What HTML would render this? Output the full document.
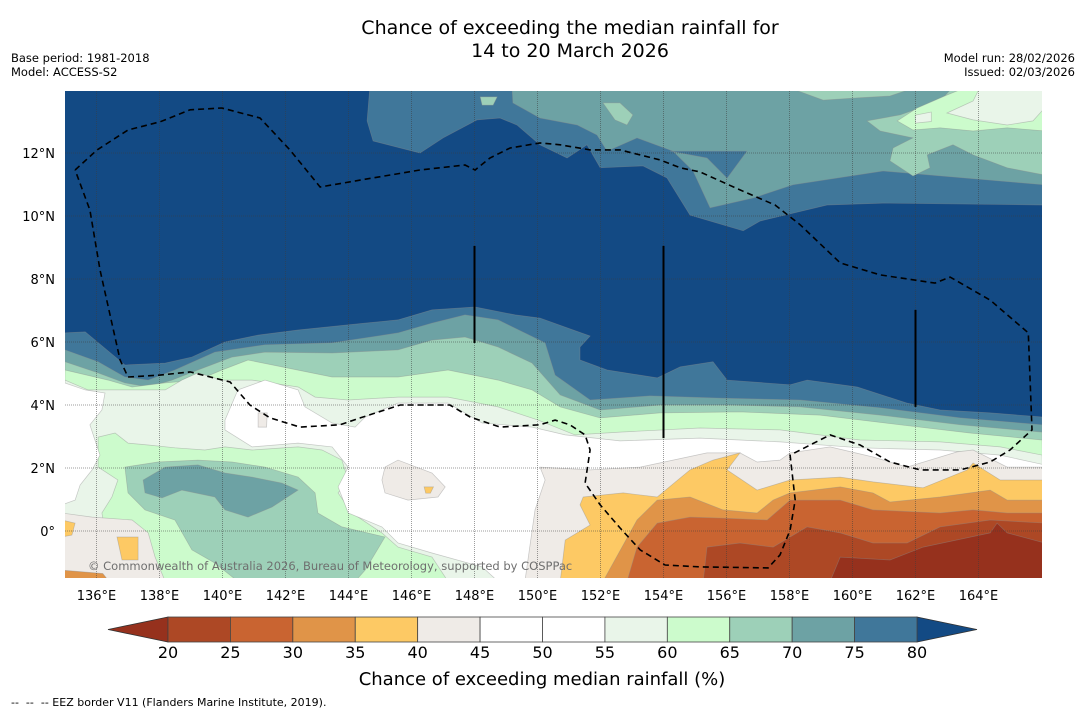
<!DOCTYPE html>
<html><head><meta charset="utf-8"><style>
body{margin:0;background:#fff;}
svg{display:block;font-family:"DejaVu Sans","Liberation Sans",sans-serif;}
</style></head><body>
<svg id="chart" width="1085" height="713" viewBox="0 0 1085 713">
<text x="570" y="34" font-size="19" text-anchor="middle" fill="#000">Chance of exceeding the median rainfall for</text>
<text x="570" y="57" font-size="19" text-anchor="middle" fill="#000">14 to 20 March 2026</text>
<text x="11" y="62" font-size="11.5">Base period: 1981-2018</text>
<text x="11" y="76" font-size="11.5">Model: ACCESS-S2</text>
<text x="1075" y="62" font-size="11.5" text-anchor="end">Model run: 28/02/2026</text>
<text x="1075" y="76" font-size="11.5" text-anchor="end">Issued: 02/03/2026</text>
<defs><clipPath id="mapclip"><rect x="65" y="91" width="977" height="487"/></clipPath></defs>
<g id="map" clip-path="url(#mapclip)"></g>
<g id="axes"></g>
<g id="cbar"></g>
<text x="542" y="685" font-size="18" text-anchor="middle">Chance of exceeding median rainfall (%)</text>
<text x="11" y="706" font-size="11">-- &#160;-- &#160;-- EEZ border V11 (Flanders Marine Institute, 2019).</text>
</svg>
<script>
const levels = [20,25,30,35,40,45,50,55,60,65,70,75,80];
const bandColors = ["#ad4825","#c96431","#e09448","#fdc964","#efebe7","#ffffff","#ffffff","#e9f5e9","#ccfbcc","#9dd0b8","#6da2a4","#40779a"];
const underColor = "#96311d";
const overColor = "#134a84";
const lonTicks = [136,138,140,142,144,146,148,150,152,154,156,158,160,162,164];
const latTicks = [0,2,4,6,8,10,12];
const northBand75 = [[144.68,14.1],[144.59,13.02],[144.78,12.38],[146.27,12.0],[147.0,12.48],[148.08,13.05],[148.81,13.11],[149.35,12.89],[150.08,12.26],[150.94,11.84],[151.57,12.26],[151.99,11.53],[153.35,11.59],[154.11,11.21],[154.84,10.03],[156.53,9.53],[157.07,9.84],[159.19,10.35],[160.97,10.41],[166.1,10.35],[166.1,14.1]];
const northBand70 = [[149.19,14.1],[149.22,13.59],[150.08,13.11],[151.26,12.89],[151.89,12.57],[152.21,12.06],[153.16,12.48],[154.3,12.06],[154.94,11.43],[155.48,10.26],[156.84,10.57],[158.11,10.99],[160.97,11.43],[166.1,10.99],[166.1,14.1]];
const northBlob75 = [[154.21,12.06],[156.65,12.06],[156.02,11.2],[155.38,11.84]];
const northBand65 = [[163.19,14.1],[162.78,13.65],[161.51,13.21],[160.46,13.02],[160.88,12.7],[161.92,12.48],[161.29,12.16],[161.19,11.75],[161.92,11.27],[162.46,11.53],[162.37,11.94],[163.19,12.26],[163.83,11.94],[164.91,11.53],[166.1,11.3],[166.1,14.1]];
const northStrip65 = [[157.92,14.1],[159.07,13.68],[160.15,13.75],[161.19,13.81],[162.05,14.1]];
const northBlobA65 = [[152.08,13.59],[152.62,13.59],[153.03,13.21],[152.84,12.89],[152.46,13.05]];
const northBlobB65 = [[148.18,13.78],[148.72,13.78],[148.59,13.52],[148.24,13.52]];
const northBand60 = [[161.42,13.02],[162.05,13.43],[163.0,13.84],[163.64,14.1],[166.1,14.1],[166.1,12.7],[164.91,12.8],[163.83,12.7],[162.78,12.8],[161.92,12.73]];
const northBand55 = [[163.0,13.27],[163.83,13.65],[164.05,14.1],[166.1,14.1],[166.1,13.43],[165.73,13.02],[164.91,12.89],[163.83,13.05]];
const northBlob55 = [[161.99,13.2],[162.5,13.3],[162.5,13.0],[162.0,12.95]];
const line80 = [[135,6.29],[135.64,6.32],[136.9,5.27],[138.18,5.33],[139.03,5.52],[140.08,6.0],[141.13,6.22],[142.4,6.38],[144.53,6.6],[145.57,6.7],[146.65,7.02],[148.02,7.11],[149.29,6.86],[150.08,6.76],[151.13,6.38],[151.67,6.19],[151.35,5.84],[151.35,5.43],[152.21,5.11],[153.8,4.86],[154.53,5.21],[155.57,5.37],[156.02,4.79],[158.02,4.64],[158.56,4.79],[160.15,4.57],[161.73,4.06],[162.78,3.84],[164.37,3.75],[166.02,3.62]];
const line75 = [[135,5.75],[136.05,5.37],[136.9,4.89],[137.64,4.79],[138.49,5.11],[139.76,5.68],[141.35,5.91],[143.48,5.97],[145.57,6.29],[146.65,6.6],[147.7,6.86],[148.75,6.7],[150.24,5.97],[150.56,4.95],[151.67,4.16],[153.57,4.29],[155.8,4.22],[158.34,4.16],[160.88,3.91],[163.42,3.59],[166.02,3.37]];
const line70 = [[135,5.37],[136.05,5.02],[136.9,4.7],[137.64,4.57],[138.4,4.79],[139.22,5.11],[140.3,5.52],[141.35,5.68],[143.48,5.65],[145.57,5.75],[146.65,6.06],[147.7,6.16],[148.75,5.84],[149.83,5.33],[150.72,4.32],[151.99,3.84],[153.89,4.0],[156.11,4.0],[158.34,3.94],[160.88,3.68],[163.42,3.37],[166.02,3.14]];
const line65 = [[135,5.11],[136.37,4.79],[137.13,4.57],[138.18,4.7],[139.22,4.79],[139.98,5.11],[140.81,5.43],[141.89,5.21],[143.48,4.89],[145.57,4.89],[147.16,5.11],[148.75,4.79],[149.83,4.48],[150.72,3.94],[151.99,3.59],[153.89,3.75],[156.43,3.78],[158.97,3.68],[161.51,3.37],[163.73,3.11],[166.02,2.89]];
const line60 = [[135,4.79],[135.73,4.48],[136.59,4.48],[138.18,4.48],[138.71,4.79],[139.22,5.02],[139.98,4.79],[140.94,4.79],[142.4,4.57],[142.94,4.25],[143.99,4.16],[145.57,4.25],[147.16,4.25],[148.75,3.94],[150.02,3.52],[151.19,3.05],[152.62,3.14],[155.16,3.27],[157.7,3.21],[160.24,2.89],[162.78,2.83],[164.69,2.67],[166.02,2.41]];
const whiteCentre = [[140.08,3.52],[140.49,4.48],[141.35,4.79],[142.4,4.48],[142.62,3.94],[143.48,3.43],[144.21,3.3],[144.53,3.62],[145.57,4.06],[147.16,4.06],[148.24,3.43],[149.83,3.3],[150.88,3.05],[152.62,2.86],[155.16,2.95],[157.7,2.83],[160.24,2.64],[162.78,2.57],[164.69,2.41],[166.1,2.1],[166.1,-1.6],[148.75,-1.6],[148.24,-1.14],[146.65,-0.7],[145.57,-0.38],[145.06,0.13],[143.99,0.57],[143.67,1.4],[143.99,2.03],[143.48,2.67],[142.4,2.79],[140.94,2.67],[140.08,3.21]];
const whiteWest = [[134.9,4.73],[135.64,4.48],[136.27,4.38],[136.17,3.84],[135.79,3.37],[135.95,2.89],[136.11,2.41],[135.86,1.94],[135.48,1.46],[135.32,0.98],[134.9,0.83]];
const blob60 = [[136.05,2.98],[136.59,3.11],[137.0,2.79],[137.64,2.73],[138.49,2.64],[139.44,2.57],[140.08,2.67],[140.94,2.57],[142.4,2.67],[143.16,2.57],[143.79,2.25],[143.99,1.62],[143.67,1.21],[144.11,0.57],[145.06,-0.06],[145.57,-0.51],[146.65,-0.83],[147.16,-1.6],[138.18,-1.6],[137.76,-1.14],[137.13,-0.51],[136.27,0.03],[136.17,0.57],[136.49,1.08],[136.68,1.62],[136.05,2.03]];
const blob65 = [[136.9,2.03],[137.95,2.19],[139.22,2.25],[140.3,2.19],[141.35,2.03],[142.4,1.71],[142.94,1.21],[143.03,0.57],[143.79,0.13],[145.16,-0.19],[144.53,-1.24],[144.21,-1.6],[140.49,-1.6],[139.76,-1.02],[139.03,-0.6],[138.49,0.35],[137.54,0.67],[137.0,1.21]];
const blob70 = [[137.48,1.62],[138.18,2.03],[139.22,2.1],[140.08,1.84],[140.94,1.71],[141.89,1.52],[142.4,1.3],[141.57,0.76],[140.81,0.44],[140.08,0.67],[139.76,1.08],[138.71,1.3],[138.08,1.05],[137.54,1.21]];
const beigeA = [[145.16,2.03],[145.57,2.25],[146.65,1.84],[147.07,1.4],[146.84,1.08],[145.89,0.98],[145.16,1.21],[145.06,1.62]];
const orangeA = [[146.4,1.4],[146.7,1.4],[146.6,1.2],[146.45,1.2]];
const beigeB = [[141.13,3.75],[141.42,3.75],[141.4,3.3],[141.13,3.3]];
const beigeSW = [[134.9,0.57],[135.86,0.44],[137.13,0.35],[137.64,-0.06],[137.86,-0.83],[138.18,-1.6],[134.9,-1.6]];
const orangeSW1 = [[136.65,-0.19],[137.32,-0.19],[137.32,-0.92],[136.81,-0.92]];
const orangeSW2 = [[134.9,0.35],[135.32,0.25],[135.22,-0.13],[134.9,-0.19]];
const darkOrangeSW = [[134.9,-1.24],[136.2,-1.35],[136.4,-1.6],[134.9,-1.6]];
const beigeEast = [[149.6,-1.6],[149.92,0.67],[150.24,1.62],[150.08,2.03],[151.67,1.94],[153.26,2.03],[155.38,2.48],[156.43,2.48],[156.97,2.19],[157.7,2.25],[158.02,2.48],[159.29,2.67],[160.65,2.35],[161.73,2.03],[163.32,2.51],[163.83,2.57],[164.91,2.03],[166.1,2.03],[166.1,-1.6]];
const orange35 = [[150.72,-1.6],[150.88,-0.29],[151.67,0.19],[151.35,0.83],[151.45,1.08],[152.72,1.21],[153.8,1.08],[154.84,1.94],[155.57,2.25],[156.43,2.48],[156.02,1.94],[156.97,1.3],[158.02,1.62],[159.61,1.71],[160.65,1.56],[162.24,1.37],[163.64,1.94],[163.83,2.16],[164.69,1.62],[166.1,1.62],[166.1,-1.6]];
const orange30 = [[152.08,-1.6],[153.16,0.35],[153.8,0.98],[154.84,1.08],[155.89,0.67],[156.97,0.57],[157.48,0.98],[158.02,1.21],[159.61,1.4],[160.65,1.21],[161.19,0.92],[162.78,1.08],[164.37,1.3],[164.91,0.98],[166.1,0.98],[166.1,-1.6]];
const orange25 = [[152.84,-1.6],[153.16,-0.51],[153.8,0.25],[154.84,0.44],[155.89,0.41],[157.29,0.35],[158.02,0.98],[159.61,0.98],[160.65,0.67],[162.78,0.57],[163.83,0.67],[164.91,0.57],[166.1,0.57],[166.1,-1.6]];
const red20 = [[155.26,-1.6],[155.38,-0.51],[156.43,-0.38],[157.48,-0.51],[158.56,0.13],[159.61,-0.06],[160.65,-0.38],[161.73,-0.38],[162.78,0.13],[164.37,0.35],[166.1,0.25],[166.1,-1.6]];
const redUnder = [[159.29,-1.6],[159.61,-0.83],[161.19,-0.92],[162.24,-0.51],[164.37,-0.06],[164.59,0.25],[164.91,-0.06],[166.1,-0.38],[166.1,-1.6]];
const eez = [[135.32,11.46],[136.02,12.1],[137.0,12.73],[138.02,12.99],[138.97,13.37],[139.98,13.43],[141.19,13.11],[142.14,12.1],[143.1,10.92],[144.37,11.14],[146.27,11.46],[147.7,11.62],[148.02,11.46],[148.49,11.84],[149.13,12.16],[150.08,12.32],[150.72,12.26],[151.67,12.1],[152.62,12.1],[153.89,11.78],[154.53,11.53],[155.16,11.4],[156.43,10.83],[157.54,10.35],[158.34,9.72],[159.61,8.51],[160.88,8.13],[162.62,7.87],[163.1,8.06],[164.37,7.33],[165.58,6.29],[165.7,3.21],[165.0,2.57],[164.37,2.19],[163.42,1.94],[162.15,1.94],[161.19,2.19],[160.24,2.73],[159.29,3.05],[158.02,2.41],[158.18,0.98],[158.02,0.03],[157.7,-0.76],[157.32,-1.17],[155.16,-1.14],[154.05,-1.08],[153.26,-0.6],[152.62,0.1],[151.99,0.83],[151.51,1.52],[151.67,2.57],[151.51,3.05],[151.03,3.37],[150.56,3.52],[150.08,3.37],[148.81,3.3],[147.86,3.62],[147.22,4.0],[146.59,4.0],[145.64,4.0],[144.37,3.59],[143.73,3.37],[142.46,3.3],[141.51,3.59],[140.87,4.0],[140.24,4.73],[138.97,5.05],[138.02,4.95],[137.0,4.89],[136.75,5.43],[136.11,8.29],[135.79,10.19],[135.32,11.46]];
const segLon = [148,154,162];
const segTop = [9.05,9.05,7.02];
const segBottom = [5.97,2.95,3.94];

const NS = "http://www.w3.org/2000/svg";
const X0 = 65, Y0 = 531, K = 31.5;
function xs(lon){ return X0 + (lon - 135) * K; }
function ys(lat){ return Y0 - lat * K; }
function colorFor(v){ if(v < levels[0]) return underColor; if(v >= levels[levels.length-1]) return overColor; for(let i=0;i<levels.length-1;i++){ if(v>=levels[i] && v<levels[i+1]) return bandColors[i]; } }
const map = document.getElementById('map');
function poly(pts, val, name){
  const p = document.createElementNS(NS,'polygon');
  p.setAttribute('points', pts.map(q=>xs(q[0]).toFixed(1)+','+ys(q[1]).toFixed(1)).join(' '));
  p.setAttribute('fill', colorFor(val));
  p.setAttribute('stroke', 'rgba(140,140,140,0.45)');
  p.setAttribute('stroke-width', '0.7');
  
  
  map.appendChild(p);
}
function southBand(line, val, name){
  const pts = line.slice();
  pts.push([166.1, -1.7]); pts.push([134.9, -1.7]);
  poly(pts, val, name);
}
const bg = document.createElementNS(NS,'rect');
bg.setAttribute('x',65); bg.setAttribute('y',91); bg.setAttribute('width',977); bg.setAttribute('height',487);
bg.setAttribute('fill', overColor);


map.appendChild(bg);
poly(northBand75, 77, 'north-band-75');
poly(northBand70, 72, 'north-band-70');
poly(northBlob75, 77, 'north-blob-75');
poly(northBand65, 67, 'north-band-65');
poly(northStrip65, 67, 'north-strip-65');
poly(northBlobA65, 67, 'north-blob-65a');
poly(northBlobB65, 67, 'north-blob-65b');
poly(northBand60, 62, 'north-band-60');
poly(northBand55, 57, 'north-band-55');
poly(northBlob55, 57, 'north-blob-55');
southBand(line80, 77, 'south-band-75');
southBand(line75, 72, 'south-band-70');
southBand(line70, 67, 'south-band-65');
southBand(line65, 62, 'south-band-60');
southBand(line60, 57, 'south-band-55');
poly(blob60, 62, 'blob-60');
poly(blob65, 67, 'blob-65');
poly(blob70, 72, 'blob-70');
poly(whiteCentre, 50, 'white-centre');
poly(whiteWest, 50, 'white-west');
poly(beigeA, 42, 'beige-blob-a');
poly(orangeA, 37, 'orange-blob-a');
poly(beigeB, 42, 'beige-blob-b');
poly(beigeSW, 42, 'beige-southwest');
poly(orangeSW1, 37, 'orange-southwest-1');
poly(orangeSW2, 37, 'orange-southwest-2');
poly(darkOrangeSW, 32, 'dark-orange-southwest');
poly(beigeEast, 42, 'beige-east');
poly(orange35, 37, 'band-35-40');
poly(orange30, 32, 'band-30-35');
poly(orange25, 27, 'band-25-30');
poly(red20, 22, 'band-20-25');
poly(redUnder, 15, 'band-under-20');
lonTicks.forEach(l=>{
  const g = document.createElementNS(NS,'line');
  g.setAttribute('x1',xs(l)); g.setAttribute('x2',xs(l)); g.setAttribute('y1',91); g.setAttribute('y2',578);
  g.setAttribute('stroke','rgba(60,60,60,0.5)'); g.setAttribute('stroke-width','1'); g.setAttribute('stroke-dasharray','1,1');
  
  
  map.appendChild(g);
});
latTicks.forEach(l=>{
  const g = document.createElementNS(NS,'line');
  g.setAttribute('x1',65); g.setAttribute('x2',1042); g.setAttribute('y1',ys(l)); g.setAttribute('y2',ys(l));
  g.setAttribute('stroke','rgba(60,60,60,0.5)'); g.setAttribute('stroke-width','1'); g.setAttribute('stroke-dasharray','1,1');
  
  
  map.appendChild(g);
});
segLon.forEach((l,i)=>{
  const s = document.createElementNS(NS,'line');
  s.setAttribute('x1',xs(l)); s.setAttribute('x2',xs(l)); s.setAttribute('y1',ys(segTop[i])); s.setAttribute('y2',ys(segBottom[i]));
  s.setAttribute('stroke','#000'); s.setAttribute('stroke-width','2');
  
  
  map.appendChild(s);
});
const ez = document.createElementNS(NS,'polyline');
ez.setAttribute('points', eez.map(q=>xs(q[0]).toFixed(1)+','+ys(q[1]).toFixed(1)).join(' '));
ez.setAttribute('fill','none'); ez.setAttribute('stroke','#000'); ez.setAttribute('stroke-width','1.6'); ez.setAttribute('stroke-dasharray','6,4');


map.appendChild(ez);
const cp = document.createElementNS(NS,'text');
cp.setAttribute('x',88); cp.setAttribute('y',570); cp.setAttribute('font-size','11.5'); cp.setAttribute('fill','#6f6f6f');
cp.textContent = '© Commonwealth of Australia 2026, Bureau of Meteorology, supported by COSPPac';


map.appendChild(cp);
const axes = document.getElementById('axes');
lonTicks.forEach(l=>{
  const t = document.createElementNS(NS,'text');
  t.setAttribute('x',xs(l)); t.setAttribute('y',600); t.setAttribute('font-size','13'); t.setAttribute('text-anchor','middle');
  t.textContent = l + '°E';
  
  
  axes.appendChild(t);
});
latTicks.forEach(l=>{
  const t = document.createElementNS(NS,'text');
  t.setAttribute('x',55); t.setAttribute('y',ys(l)+5); t.setAttribute('font-size','13'); t.setAttribute('text-anchor','end');
  t.textContent = l === 0 ? '0°' : l + '°N';
  
  
  axes.appendChild(t);
});
const cb = document.getElementById('cbar');
const cbX0 = 168, cbX1 = 917, cbY = 617, cbH = 25;
const segW = (cbX1 - cbX0) / bandColors.length;
const tl = document.createElementNS(NS,'polygon');
tl.setAttribute('points', `${cbX0},${cbY} 108,${cbY+cbH/2} ${cbX0},${cbY+cbH}`);
tl.setAttribute('fill', underColor); tl.setAttribute('stroke','#333'); tl.setAttribute('stroke-width','0.8');


cb.appendChild(tl);
const tr = document.createElementNS(NS,'polygon');
tr.setAttribute('points', `${cbX1},${cbY} 977,${cbY+cbH/2} ${cbX1},${cbY+cbH}`);
tr.setAttribute('fill', overColor); tr.setAttribute('stroke','#333'); tr.setAttribute('stroke-width','0.8');


cb.appendChild(tr);
bandColors.forEach((c,i)=>{
  const r = document.createElementNS(NS,'rect');
  r.setAttribute('x', cbX0 + i*segW); r.setAttribute('y', cbY); r.setAttribute('width', segW); r.setAttribute('height', cbH);
  r.setAttribute('fill', c); r.setAttribute('stroke','#444'); r.setAttribute('stroke-width','0.8');
  
  
  cb.appendChild(r);
});
levels.forEach((v,i)=>{
  const t = document.createElementNS(NS,'text');
  t.setAttribute('x', cbX0 + i*segW); t.setAttribute('y', 658); t.setAttribute('font-size','16'); t.setAttribute('text-anchor','middle');
  t.textContent = v;
  
  
  cb.appendChild(t);
});
</script>
</body></html>
